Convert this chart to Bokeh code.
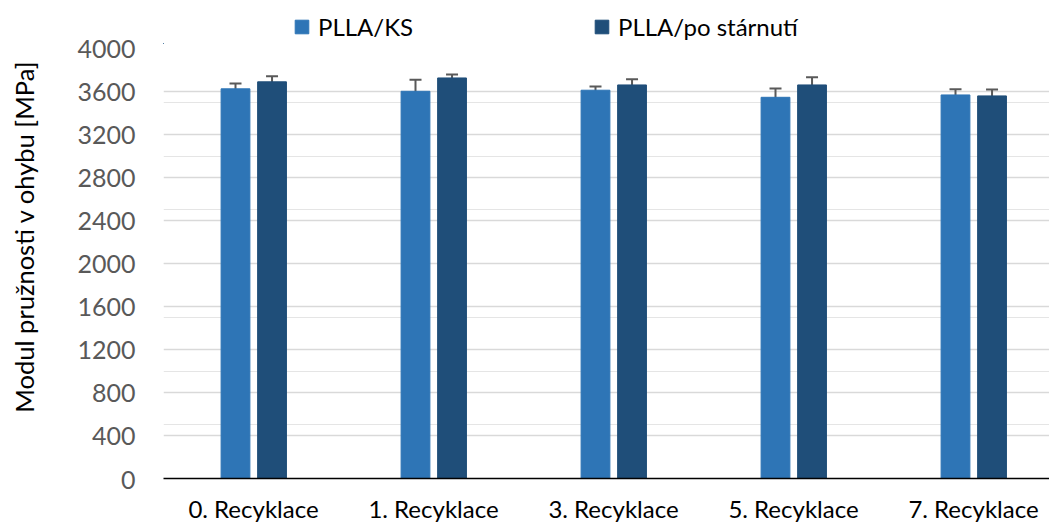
import math
from bokeh.plotting import figure
from bokeh.layouts import row, column
from bokeh.models import (ColumnDataSource, Whisker, TeeHead, Range1d, FixedTicker,
                          Legend, LegendItem, Grid)
from bokeh.core.properties import value
from bokeh.embed import file_html
from bokeh.resources import INLINE

categories = ["0. Recyklace", "1. Recyklace", "3. Recyklace", "5. Recyklace", "7. Recyklace"]
series_names = ["PLLA/KS", "PLLA/po stárnutí"]
plla_ks = [3625, 3602, 3612, 3546, 3568]
plla_ks_err = [49, 107, 35, 83, 54]
plla_aged = [3690, 3726, 3661, 3661, 3559]
plla_aged_err = [53, 31, 52, 72, 59]
y_ticks = [0, 400, 800, 1200, 1600, 2000, 2400, 2800, 3200, 3600, 4000]
y_label = "Modul pružnosti v ohybu [MPa]"

FONT = "Lato"
C1 = "#2E75B6"
C2 = "#1F4E79"
ERR = "#595959"
W = 1049
H = 525
LW = 40          # width of the axis-title strip
AW = 123         # width of the tick-label strip
TOP = 44         # height of the legend strip
PW = W - LW - AW # width of the plot
FT, FB = 48, 46  # plot-area top / bottom margins (in page pixels)

xs = list(range(len(categories)))
off = 0.1
bw = 0.16

# ---- axis title strip ---------------------------------------------------
t = figure(width=LW, height=H, output_backend="svg", toolbar_location=None,
           x_range=Range1d(0, LW), y_range=Range1d(0, H),
           x_axis_location=None, y_axis_location=None, min_border=0)
t.outline_line_color = None
t.grid.grid_line_color = None
t.text(x=[23], y=[296], text=[y_label], angle=math.pi / 2,
       text_align="center", text_baseline="middle",
       text_font=value(FONT), text_font_size="25.5px", text_color="black")

# ---- value axis strip ---------------------------------------------------
yf = figure(width=AW, height=H, output_backend="svg", toolbar_location=None,
            x_range=Range1d(0, 1), y_range=Range1d(0, 4000), x_axis_location=None,
            min_border_left=AW - 1, min_border_right=0, min_border_top=FT, min_border_bottom=FB)
yf.outline_line_color = None
yf.grid.grid_line_color = None
yf.yaxis.ticker = FixedTicker(ticks=y_ticks)
yf.yaxis.major_label_text_font = FONT
yf.yaxis.major_label_text_font_size = "25px"
yf.yaxis.major_label_text_color = "#595959"
yf.yaxis.major_label_standoff = 27
yf.yaxis.major_tick_out = 0
yf.yaxis.major_tick_in = 0
yf.yaxis.major_tick_line_color = None
yf.yaxis.minor_tick_line_color = None
yf.yaxis.axis_line_color = None

# ---- legend strip -------------------------------------------------------
lf = figure(width=PW, height=TOP, output_backend="svg", toolbar_location=None,
            x_range=Range1d(0, PW), y_range=Range1d(0, TOP),
            x_axis_location=None, y_axis_location=None, min_border=0)
lf.outline_line_color = None
lf.grid.grid_line_color = None
# off-screen proxies so that the legend can draw its swatches
d1 = lf.vbar(x=[-100], top=[1], width=1, fill_color=C1, line_color=C1)
d2 = lf.vbar(x=[-100], top=[1], width=1, fill_color=C2, line_color=C2)
lg = Legend(items=[LegendItem(label=series_names[0], renderers=[d1]),
                   LegendItem(label=series_names[1], renderers=[d2])],
            location=(130, 3), orientation="horizontal", padding=0, margin=0, spacing=0,
            border_line_color=None, background_fill_alpha=0,
            glyph_width=17, glyph_height=17, label_standoff=8, label_width=275,
            label_text_font=FONT, label_text_font_size="24px", label_text_color="black")
lf.add_layout(lg, "center")

# ---- main chart ---------------------------------------------------------
p = figure(width=PW, height=H - TOP, output_backend="svg", toolbar_location=None,
           x_range=Range1d(-0.5, PW / 180 - 0.5), y_range=Range1d(0, 4000),
           y_axis_location=None,
           min_border_left=0, min_border_right=0,
           min_border_top=FT - TOP, min_border_bottom=FB)
p.outline_line_color = None
p.add_layout(Grid(dimension=1, ticker=FixedTicker(ticks=y_ticks),
                  grid_line_color="#D9D9D9", grid_line_width=1.5))

s1 = ColumnDataSource(dict(x=[x - off for x in xs], top=plla_ks,
                           lo=[v - e for v, e in zip(plla_ks, plla_ks_err)],
                           hi=[v + e for v, e in zip(plla_ks, plla_ks_err)]))
s2 = ColumnDataSource(dict(x=[x + off + 0.003 for x in xs], top=plla_aged,
                           lo=[v - e for v, e in zip(plla_aged, plla_aged_err)],
                           hi=[v + e for v, e in zip(plla_aged, plla_aged_err)]))

p.vbar(x="x", top="top", width=bw, source=s1, fill_color=C1, line_color=C1)
p.vbar(x="x", top="top", width=bw, source=s2, fill_color=C2, line_color=C2)

for s in (s1, s2):
    w = Whisker(base="x", upper="hi", lower="lo", source=s, line_color=ERR, line_width=2,
                upper_head=TeeHead(size=12, line_color=ERR, line_width=2),
                lower_head=TeeHead(size=12, line_color=ERR, line_width=2))
    p.add_layout(w)

p.xaxis.ticker = FixedTicker(ticks=xs)
p.xaxis.major_label_overrides = {i: c for i, c in enumerate(categories)}
p.xaxis.major_label_text_font = FONT
p.xaxis.major_label_text_font_size = "24px"
p.xaxis.major_label_text_color = "black"
p.xaxis.major_label_standoff = 15
p.xaxis.major_tick_out = 0
p.xaxis.major_tick_in = 0
p.xaxis.major_tick_line_color = None
p.xaxis.minor_tick_line_color = None
p.xaxis.axis_line_color = "black"
p.xaxis.axis_line_width = 1.5
p.xgrid.grid_line_color = None

layout = row(t, yf, column(lf, p, spacing=0), spacing=0)
open("out.html", "w").write(file_html(layout, INLINE))
